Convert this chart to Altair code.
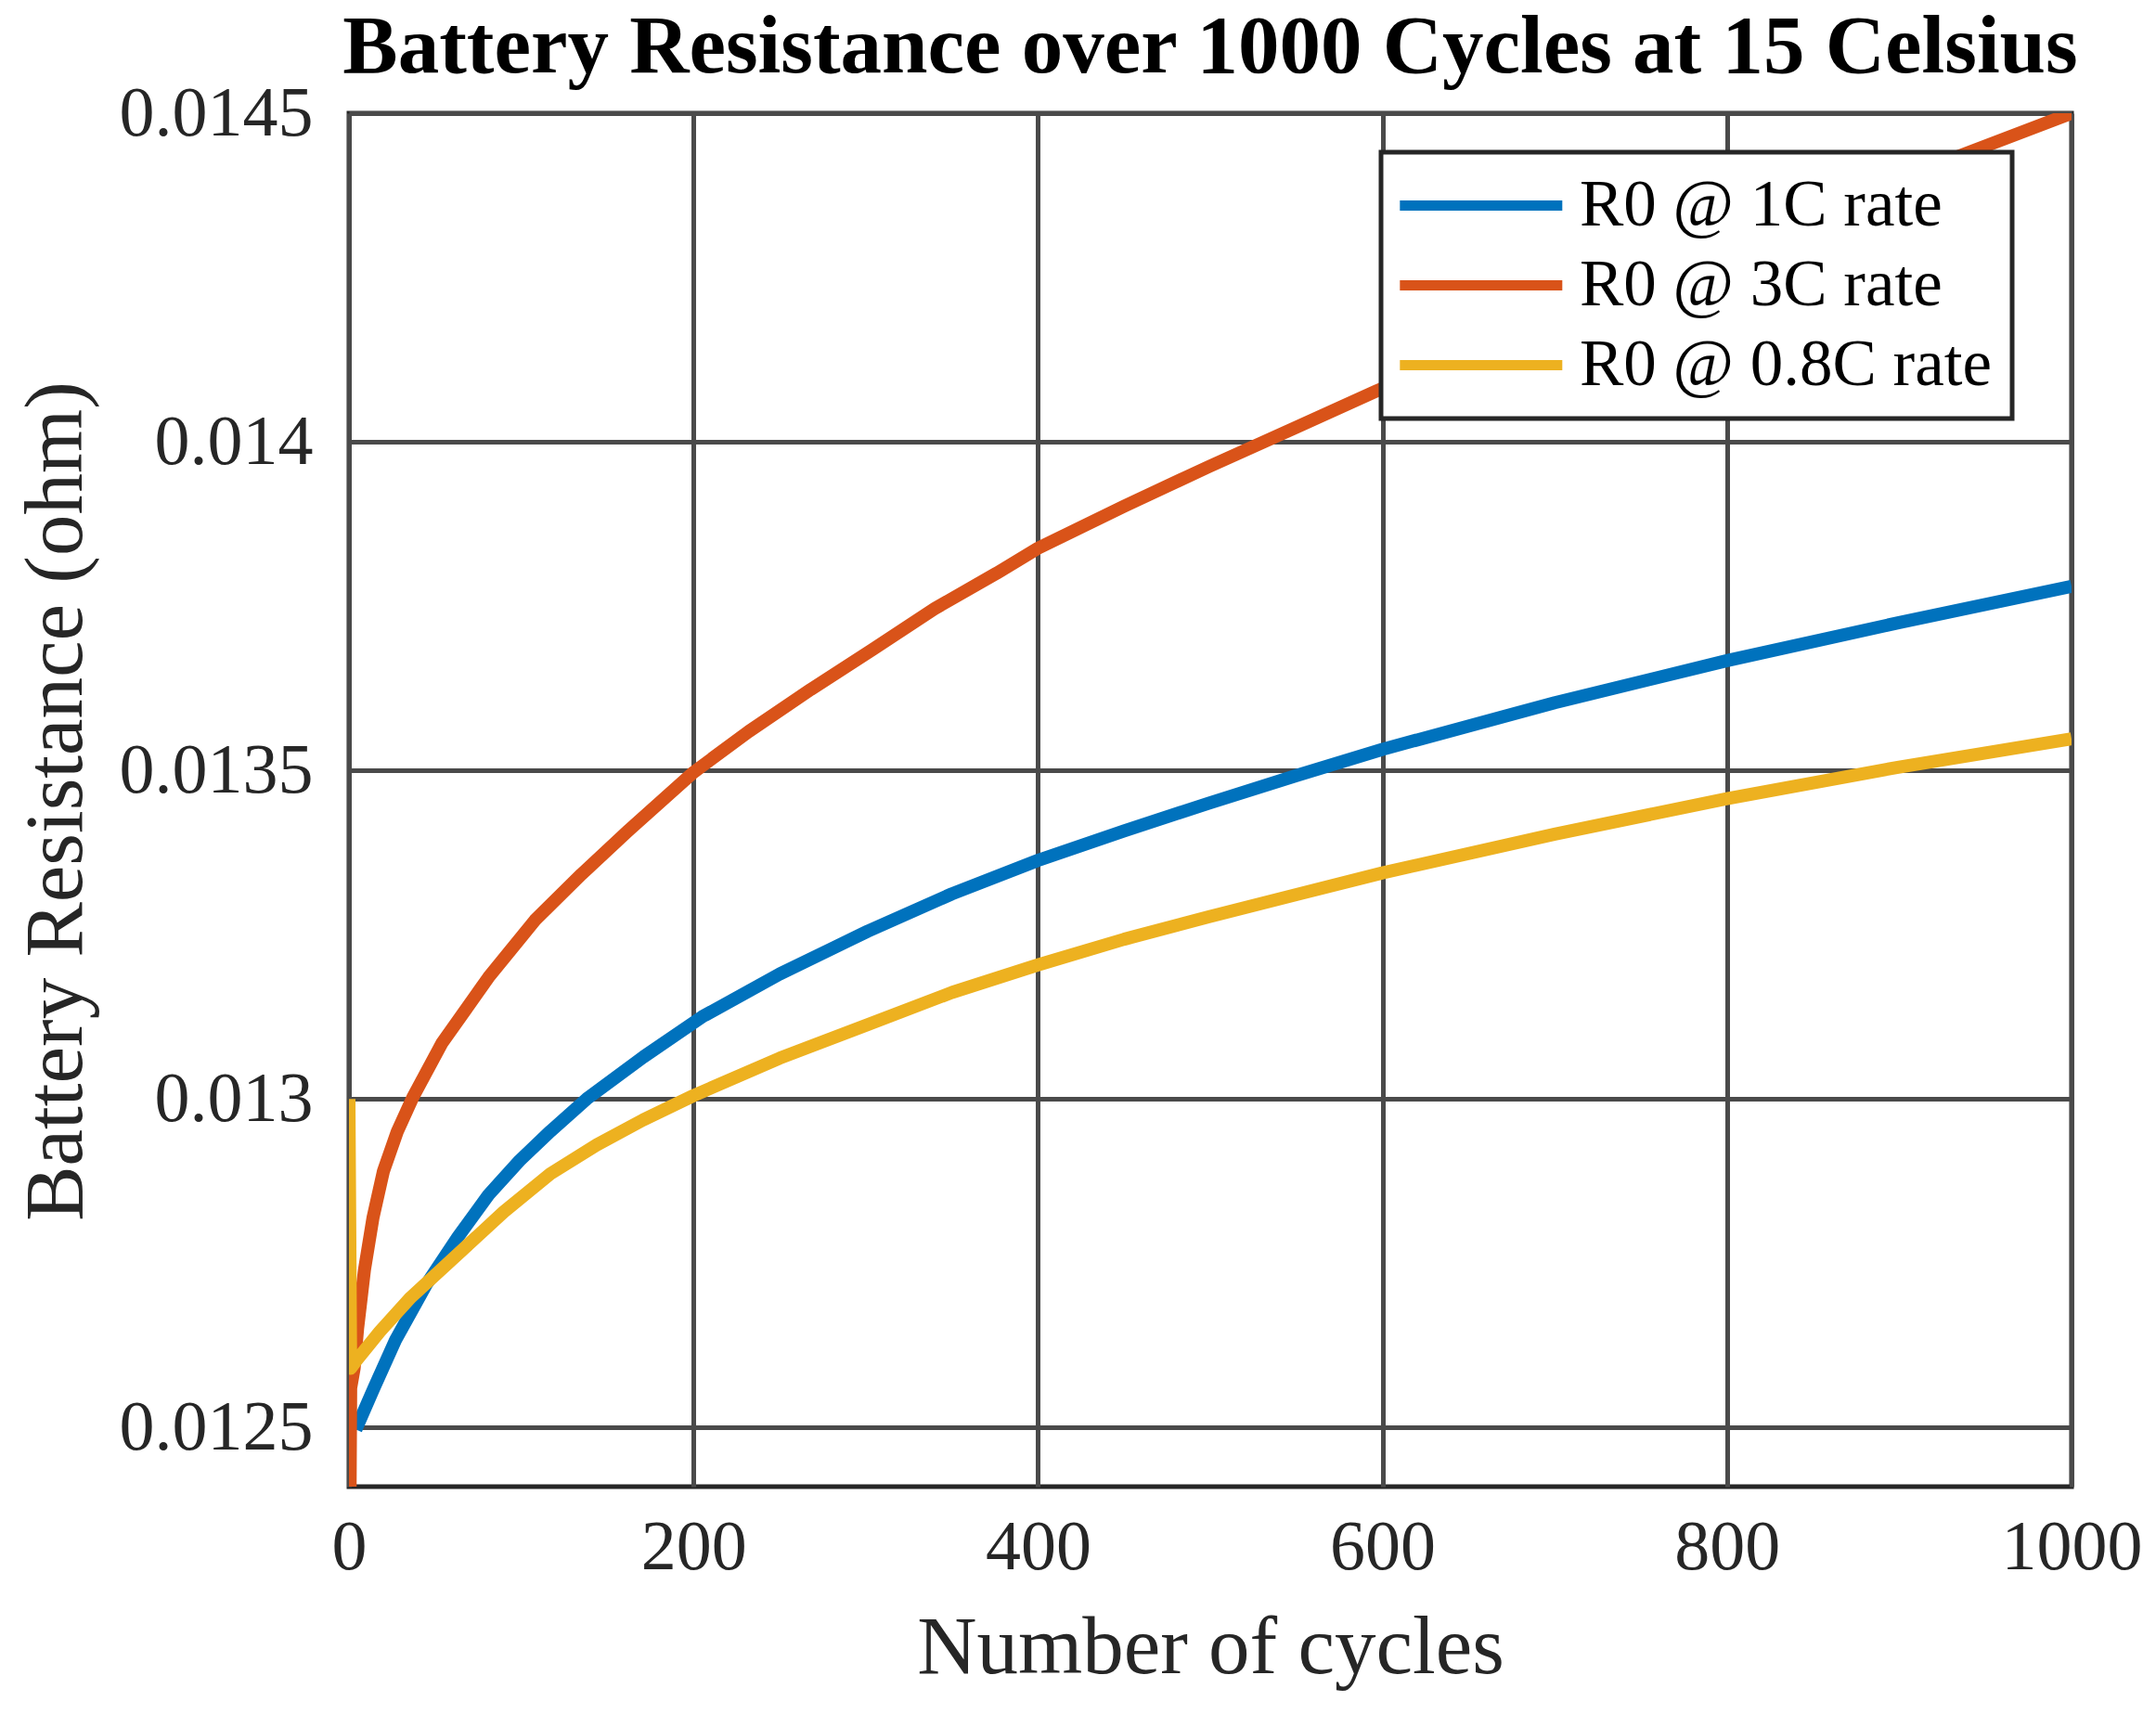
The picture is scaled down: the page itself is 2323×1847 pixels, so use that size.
import altair as alt
import pandas as pd

# series labels and colours (legend order)
series_names = ["R0 @ 1C rate", "R0 @ 3C rate", "R0 @ 0.8C rate"]
series_colors = ["#0072BD", "#D95319", "#EDB120"]

# values
cycles_1c = [4, 14.5, 27, 45, 63, 81, 99, 117, 138, 171, 205, 250, 301, 350,
             400, 450, 499, 550, 600, 700, 800, 900, 1000]
r0_1c = [0.012497, 0.01256, 0.012633, 0.012718, 0.012789, 0.012854, 0.012906,
         0.012951, 0.013, 0.013064, 0.013125, 0.01319, 0.013255, 0.013312,
         0.013363, 0.013408, 0.01345, 0.013492, 0.013532, 0.013603, 0.013667,
         0.013725, 0.01378]

cycles_3c = [0, 1, 3, 5, 9, 14, 20, 28, 37, 54, 81, 108, 135, 162, 200, 232,
             268, 304, 340, 376, 400, 450, 499, 550, 597, 700, 800, 900, 1000]
r0_3c = [0.0121, 0.01256, 0.01259, 0.01265, 0.01274, 0.01282, 0.01289,
         0.01295, 0.013002, 0.013085, 0.013185, 0.013272, 0.013342, 0.013408,
         0.013497, 0.013559, 0.013623, 0.013684, 0.013746, 0.0138, 0.013838,
         0.013902, 0.013962, 0.014022, 0.014078, 0.014193, 0.0143, 0.0144,
         0.0145]

cycles_08c = [0, 1, 3.7, 17.9, 35.9, 62.9, 89.8, 116.9, 143.8, 170.7, 200, 250,
              301, 350, 400, 450, 499, 550, 600, 700, 800, 900, 1000]
r0_08c = [0.013, 0.01259, 0.0126, 0.012646, 0.012698, 0.012763, 0.012828,
          0.012886, 0.01293, 0.012968, 0.013005, 0.013062, 0.013113, 0.013162,
          0.013204, 0.013243, 0.013277, 0.013311, 0.013344, 0.013403, 0.013457,
          0.013505, 0.013548]

x_ticks = [0, 200, 400, 600, 800, 1000]
y_ticks = [0.0125, 0.013, 0.0135, 0.014, 0.0145]

frames = [
    pd.DataFrame({"cycles": cyc, "r0": r0, "series": name})
    for name, cyc, r0 in zip(
        series_names, [cycles_1c, cycles_3c, cycles_08c], [r0_1c, r0_3c, r0_08c]
    )
]
data = pd.concat(frames, ignore_index=True)

FONT = "Liberation Serif"
INK = "#262626"

chart = (
    alt.Chart(data)
    .mark_line(strokeWidth=14, clip=True, strokeJoin="round")
    .encode(
        x=alt.X(
            "cycles:Q",
            scale=alt.Scale(domain=[0, 1000], nice=False),
            axis=alt.Axis(
                values=x_ticks,
                format="d",
                title="Number of cycles",
                labelPadding=88,
                labelBaseline="alphabetic",
                titleY=200,
                titleBaseline="alphabetic",
            ),
        ),
        y=alt.Y(
            "r0:Q",
            scale=alt.Scale(domain=[0.01241, 0.0145], nice=False, zero=False),
            axis=alt.Axis(
                values=y_ticks,
                format="~g",
                title="Battery Resistance (ohm)",
                labelPadding=39,
                titleX=-289,
                titleY=741,
                titleAlign="center",
                titleBaseline="alphabetic",
            ),
        ),
        color=alt.Color(
            "series:N",
            sort=series_names,
            scale=alt.Scale(domain=series_names, range=series_colors),
            legend=alt.Legend(
                title=None,
                orient="none",
                legendX=1112,
                legendY=42,
                symbolType="M-1.7,0H6.3",
                symbolSize=1914,
                symbolStrokeWidth=11,
                labelOffset=121,
                labelFont=FONT,
                labelFontSize=71,
                labelColor="black",
                labelLimit=0,
                rowPadding=14,
                padding=22,
                strokeColor=INK,
                fillColor="white",
            ),
        ),
    )
    .properties(
        width=1856,
        height=1480,
        autosize=alt.AutoSizeParams(type="none"),
        padding={"left": 368, "top": 114, "right": 80, "bottom": 230},
        title=alt.TitleParams(
            "Battery Resistance over 1000 Cycles at 15 Celsius",
            font=FONT,
            fontSize=89,
            fontWeight="bold",
            color="black",
            anchor="middle",
            frame="group",
            baseline="alphabetic",
            offset=10,
            dy=93,
        ),
    )
    .configure_view(stroke=INK, strokeWidth=5, fill="white")
    .configure_axis(
        grid=True,
        gridColor="#4a4a4a",
        gridWidth=5,
        domain=False,
        ticks=False,
        tickSize=0,
        labelFont=FONT,
        labelFontSize=76,
        labelColor=INK,
        labelFlush=False,
        labelLimit=0,
        titleFont=FONT,
        titleFontSize=89,
        titleFontWeight="normal",
        titleColor=INK,
    )
    .configure_legend(strokeWidth=5)
)

chart.save("out.html", embed_options={"renderer": "svg", "actions": False})
